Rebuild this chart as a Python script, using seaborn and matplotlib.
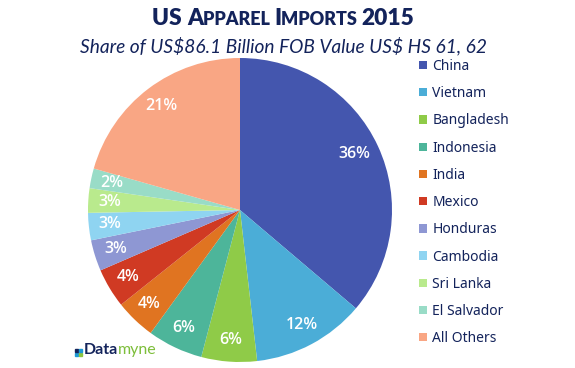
import matplotlib
matplotlib.use("Agg")
import matplotlib.pyplot as plt
import seaborn as sns
from matplotlib.patches import Rectangle

# ----------------------------
# Data
# ----------------------------
countries = ["China", "Vietnam", "Bangladesh", "Indonesia", "India", "Mexico",
             "Honduras", "Cambodia", "Sri Lanka", "El Salvador", "All Others"]
shares = [36.2, 12.0, 5.9, 5.9, 4.3, 4.2, 3.3, 2.9, 2.6, 2.1, 20.6]
colors = ["#4456AE", "#4BADD7", "#8FCB48", "#4DB59A", "#E07421", "#D03A23",
          "#8E97D3", "#8FD4F1", "#B9EA8D", "#99DCC7", "#F9A684"]

# title pieces for a small-caps look: (text, is_big)
title_parts = [("US ", True), ("A", True), ("PPAREL ", False), ("I", True),
               ("MPORTS ", False), ("2015", True)]
SUBTITLE = r"Share of US\$86.1 Billion FOB Value US\$ HS 61, 62"
NAVY = "#13235B"

sns.set_theme(style="white")
plt.rcParams["font.family"] = ["DejaVu Sans"]

W, H = 575, 368
fig = plt.figure(figsize=(W / 100, H / 100), dpi=100)
ax = fig.add_axes([88 / W, 6 / H, 304 / W, 304 / H])

wedges, texts, autotexts = ax.pie(
    shares, colors=colors, startangle=90, counterclock=False,
    autopct="%.0f%%", pctdistance=0.86,
    wedgeprops=dict(linewidth=0),
    textprops=dict(color="white", fontsize=11.5, fontweight="semibold", family="Open Sans"),
)
autotexts[0].set_position((0.75, 0.37))
ax.set_xlim(-1, 1)
ax.set_ylim(-1, 1)
ax.set_aspect("equal")

# title in pseudo small caps, centred at x=283px
renderer = fig.canvas.get_renderer()
pieces = []
for txt, big in title_parts:
    t = fig.text(0, 1 - 25 / H, txt, ha="left", va="baseline",
                 fontsize=16.4 if big else 13, fontweight="heavy",
                 color=NAVY, family="Lato")
    pieces.append(t)
widths = [p.get_window_extent(renderer).width for p in pieces]
x = 283 - sum(widths) / 2
for p, w in zip(pieces, widths):
    p.set_x(x / W)
    x += w

fig.text(283 / W, 1 - 46 / H, SUBTITLE, ha="center", va="center", fontsize=13.8,
         style="italic", color=NAVY, family="Lato")

# legend
fig.legend(wedges, countries, loc="upper left", bbox_to_anchor=(419 / W, 1 - 59 / H),
           frameon=False, prop=dict(family="Noto Sans", size=10), labelcolor=NAVY,
           handlelength=0.55, handleheight=0.55, handletextpad=0.4,
           labelspacing=0.88, borderaxespad=0, borderpad=0)

# Datamyne logo
for (dx, dy, c) in [(0, 0, "#1E9AD6"), (4, 0, "#8DC63F"), (0, 4, "#13235B"), (4, 4, "#1E9AD6")]:
    fig.patches.append(Rectangle(((75 + dx) / W, 1 - (356 - dy) / H), 3.4 / W, 3.4 / H,
                                 transform=fig.transFigure, color=c, zorder=5))
d = fig.text(84 / W, 1 - 350 / H, "Data", ha="left", va="center", fontsize=11.5,
             fontweight="bold", color=NAVY, family="Lato")
dw = d.get_window_extent(renderer).width
fig.text((84 + dw) / W, 1 - 350 / H, "myne", ha="left", va="center", fontsize=11.5,
         color="#7DBE3A", family="Lato")

fig.savefig("out.png", dpi=100)
